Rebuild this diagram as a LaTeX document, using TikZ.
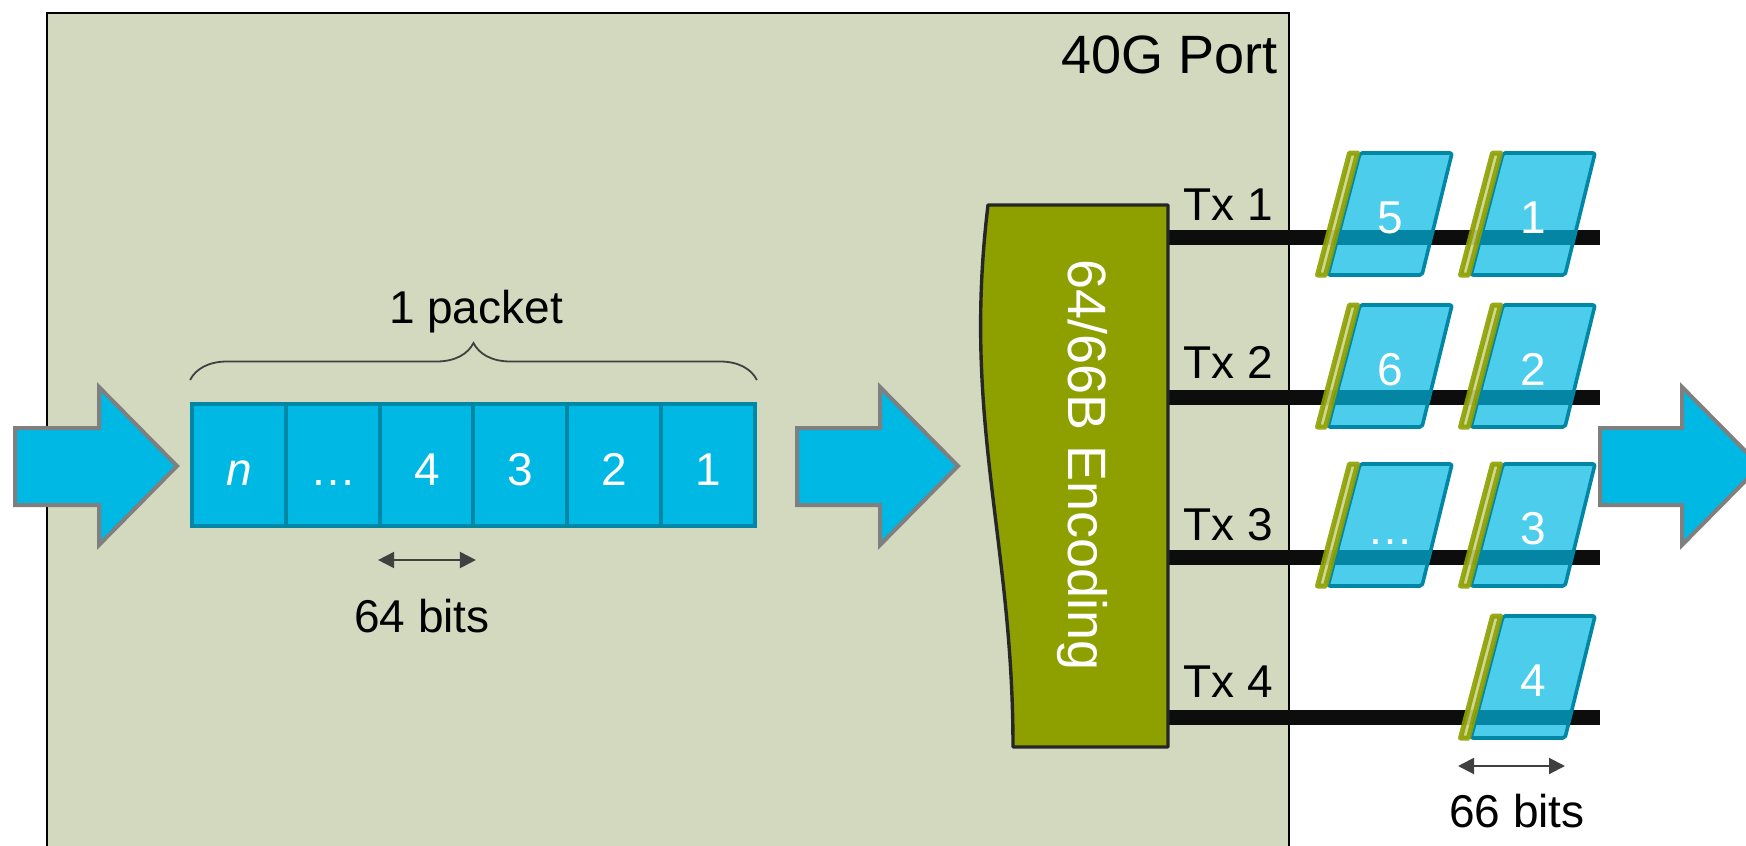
\documentclass[tikz,border=0pt]{standalone}
\usepackage{fontspec}
\setmainfont{Liberation Sans}
\usetikzlibrary{ arrows.meta
               , decorations.pathreplacing
               }
\definecolor{portbg}{RGB}{211,217,191}
\definecolor{pktcyan}{RGB}{0,184,228}
\definecolor{pktedge}{RGB}{0,135,166}
\definecolor{encolive}{RGB}{141,160,0}
\definecolor{arrgray}{RGB}{127,127,127}
\definecolor{dimgray}{RGB}{64,64,64}

\begin{document}
\begin{tikzpicture}
      [ x=0.5pt, y=-0.5pt
      , txt/.style={inner sep=0pt, anchor=base, font=\fontsize{23}{28}\selectfont}
      , bigtxt/.style={inner sep=0pt, font=\fontsize{27}{32}\selectfont}
      , port/.style={draw=black, line width=1pt, fill=portbg}
      , bigarrow/.style={draw=arrgray, line width=2pt, fill=pktcyan, line join=miter}
      , pktcell/.style={draw=pktedge, line width=2pt, fill=pktcyan, text=white
                       , minimum width=46.9pt, minimum height=61pt, inner sep=0pt
                       , text height=20pt, text depth=0pt
                       , font=\fontsize{23}{28}\selectfont}
      , encoder/.style={draw=black!85, line width=1.7pt, fill=encolive, line join=round}
      , txline/.style={draw=black!95, line width=7.5pt}
      , wordbody/.style={draw=pktedge, fill=pktcyan, fill opacity=0.7, line width=1.8pt
                        , rounded corners=1pt, line join=round}
      , wordsync/.style={draw=encolive, fill=encolive!45!white, opacity=0.9
                        , line width=2.5pt, line join=round}
      , dimarrow/.style={draw=dimgray, line width=1pt
                        , {Triangle[length=8pt,width=8pt]}-{Triangle[length=8pt,width=8pt]}}
      , brace/.style={draw=dimgray, line width=0.9pt
                     , decorate, decoration={brace, amplitude=18.5pt}}
      ]
    \clip (0,0) rectangle (1746,846);

    % the port
    \draw[port] (47,13) rectangle (1289,870);
    \node[bigtxt, anchor=base east] (PL) at (1278,73) {40G Port};

    % lanes
    \coordinate (L1) at (1168,237);
    \coordinate (L2) at (1168,397);
    \coordinate (L3) at (1168,557);
    \coordinate (L4) at (1168,717);
    \coordinate (R1) at (1600,237);
    \coordinate (R2) at (1600,397);
    \coordinate (R3) at (1600,557);
    \coordinate (R4) at (1600,717);
    \draw[txline]
    (L1) -- (R1)
    (L2) -- (R2)
    (L3) -- (R3)
    (L4) -- (R4);

    \node[txt, anchor=base west] (T1) at (1183,220) {Tx 1};
    \node[txt, anchor=base west] (T2) at (1183,378) {Tx 2};
    \node[txt, anchor=base west] (T3) at (1183,540) {Tx 3};
    \node[txt, anchor=base west] (T4) at (1183,697) {Tx 4};

    % encoder
    \draw[encoder] (988,205) -- (1168,205) -- (1168,747) -- (1013,747)
      .. controls (1013,540) and (962,420) .. (988,205) -- cycle;
    \node[bigtxt, anchor=base, rotate=-90, text=white] (E) at (1068,465)
      {64/66B Encoding};

    % 66 bit words on the lanes
    \foreach \x/\t/\w [count=\i] in {1347/153/5, 1490/153/1, 1347/305/6, 1490/305/2,
                                      1347/464/…, 1490/464/3, 1490/616/4}
    {
      \filldraw[wordbody] (\x+13,\t) -- (\x+105,\t) -- (\x+75,\t+122) -- (\x-19,\t+122) -- cycle;
      \filldraw[wordsync] (\x+2.5,\t) -- (\x+10.5,\t) -- (\x-21.5,\t+122) -- (\x-29.5,\t+122) -- cycle;
      \coordinate (BL\i) at (\x-32,\t+122);
      \coordinate (BR\i) at (\x+75,\t+122);
      \node[txt, text=white] (W\i) at (\x+43,\t+80) {\w};
    }

    % flow arrows
    \draw[bigarrow] (15,428) -- ++(84,0) -- ++(0,-41) -- ++(78,79) -- ++(-78,79)
      -- ++(0,-40) -- ++(-84,0) -- cycle;
    \draw[bigarrow] (797,428) -- ++(83,0) -- ++(0,-41) -- ++(78,79) -- ++(-78,79)
      -- ++(0,-40) -- ++(-83,0) -- cycle;
    \draw[bigarrow] (1600,428) -- ++(82,0) -- ++(0,-41) -- ++(78,79) -- ++(-78,79)
      -- ++(0,-40) -- ++(-82,0) -- cycle;

    % the packet
    \node[pktcell] (C1) at (239,465) {\textit{n}};
    \node[pktcell] (C2) at (333,465) {…};
    \node[pktcell] (C3) at (427,465) {4};
    \node[pktcell] (C4) at (520,465) {3};
    \node[pktcell] (C5) at (614,465) {2};
    \node[pktcell] (C6) at (708,465) {1};

    \draw[brace] ([yshift=11pt]C1.north west) -- ([yshift=11pt]C6.north east);
    \node[txt] (PK) at (476,323) {1 packet};

    \draw[dimarrow] ([yshift=-16pt]C3.south west) -- ([yshift=-16pt]C3.south east);
    \node[txt] (B64) at (422,632) {64 bits};

    \draw[dimarrow] ([yshift=-14pt]BL7) -- ([yshift=-14pt]BR7);
    \node[txt] (B66) at (1517,827) {66 bits};
\end{tikzpicture}
\end{document}
